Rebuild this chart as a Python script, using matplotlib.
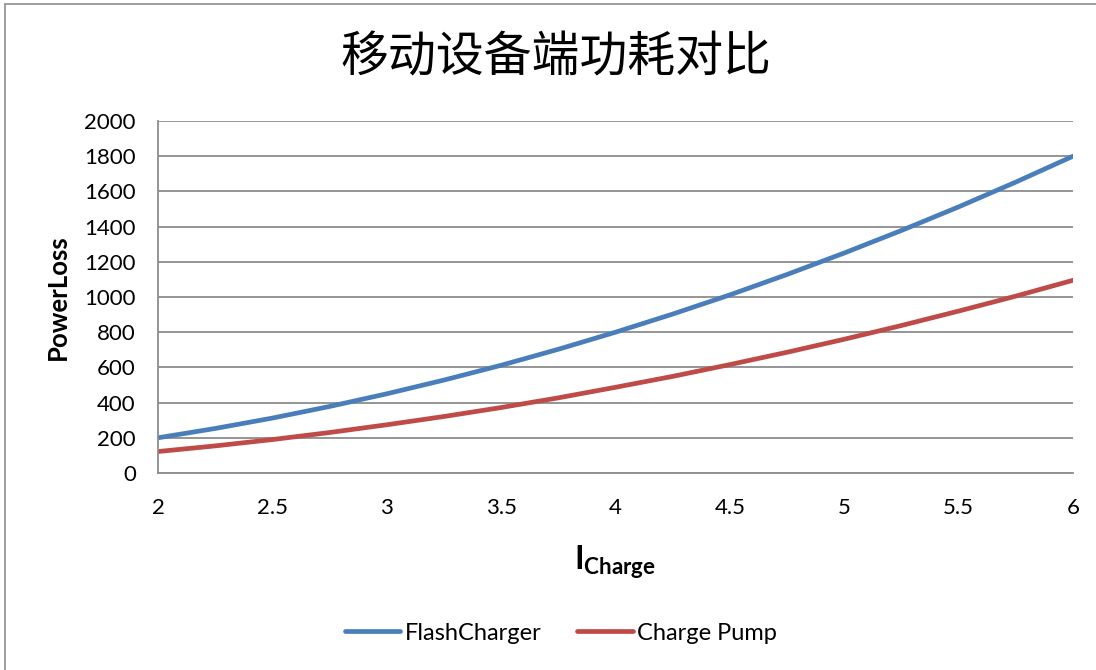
import matplotlib.pyplot as plt
from matplotlib.patches import Rectangle

# values
current = [2, 2.25, 2.5, 2.75, 3, 3.25, 3.5, 3.75, 4, 4.25, 4.5, 4.75, 5, 5.25, 5.5, 5.75, 6]
flash_charger = [200, 253, 312, 378, 450, 528, 612, 703, 800, 903, 1012, 1128, 1250, 1378, 1512, 1653, 1800]
charge_pump = [122, 154, 190, 230, 274, 321, 372, 427, 487, 549, 616, 686, 760, 838, 920, 1005, 1095]
x_ticks = [2, 2.5, 3, 3.5, 4, 4.5, 5, 5.5, 6]
y_ticks = [0, 200, 400, 600, 800, 1000, 1200, 1400, 1600, 1800, 2000]

plt.rcParams['font.family'] = ['Lato', 'DejaVu Sans']
plt.rcParams['mathtext.fontset'] = 'custom'
plt.rcParams['mathtext.bf'] = 'Lato:bold'
plt.rcParams['mathtext.rm'] = 'Lato'

fig = plt.figure(figsize=(10.96, 6.70), dpi=100)
# outer chart border
fig.patches.append(Rectangle((5 / 1096, -0.01), 1.02, 1 - 4 / 670 + 0.01,
                             transform=fig.transFigure, fill=False,
                             edgecolor='#8c8c8c', linewidth=1.2))

ax = fig.add_axes([158 / 1096, 1 - 473 / 670, (1073 - 158) / 1096, (473 - 121) / 670])

ax.plot(current, flash_charger, color='#4a7ebb', linewidth=3.4, label='FlashCharger',
        solid_capstyle='round')
ax.plot(current, charge_pump, color='#be4b48', linewidth=3.4, label='Charge Pump',
        solid_capstyle='round')

ax.set_xlim(2, 6)
ax.set_ylim(0, 2000)
ax.set_xticks(x_ticks)
ax.set_xticklabels([f'{t:g}' for t in x_ticks])
ax.set_yticks(y_ticks)
ax.tick_params(axis='both', length=0, labelsize=16)
ax.tick_params(axis='y', pad=16)
ax.tick_params(axis='x', pad=18)
ax.grid(axis='y', color='#8c8c8c', linewidth=1.3)
ax.set_axisbelow(True)
for s in ['top', 'right']:
    ax.spines[s].set_visible(False)
for s in ['left', 'bottom']:
    ax.spines[s].set_color('#8c8c8c')
    ax.spines[s].set_linewidth(1.3)

fig.text(58 / 1096, 1 - 297 / 670, 'PowerLoss', fontsize=18.5, fontweight='bold',
         rotation=90, ha='center', va='center')
fig.text(615 / 1096, 1 - 562 / 670, r'$\mathbf{I}_{\mathbf{Charge}}$', fontsize=23,
         ha='center', va='center')

fig.text(556 / 1096, 1 - 58 / 670, '移动设备端功耗对比', fontsize=34.5, fontweight='medium',
         family=['Noto Sans CJK SC', 'DejaVu Sans'], ha='center', va='center')

fig.legend(loc='center', bbox_to_anchor=(561 / 1096, 1 - 633 / 670), ncol=2,
           frameon=False, fontsize=17, handlelength=2.35, handletextpad=0.2,
           columnspacing=1.5)

plt.savefig('out.png', dpi=100)
